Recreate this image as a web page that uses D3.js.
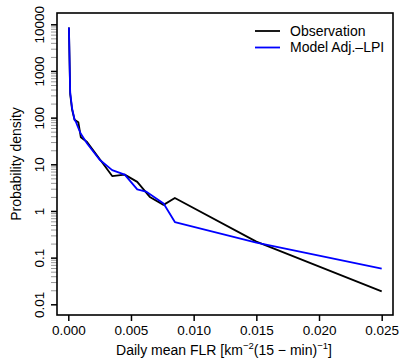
<!DOCTYPE html>
<html>
<head>
<meta charset="utf-8">
<script src="https://cdn.jsdelivr.net/npm/d3@7"></script>
<style>
  body { margin: 0; background: #fff; }
  svg text { font-family: "Liberation Sans", Arial, Helvetica, sans-serif; }
</style>
</head>
<body>
<div id="chart-area"></div>
<script>
// observed FLR density
const xObs = [0.00005, 0.00015, 0.0003, 0.0005, 0.0008, 0.001, 0.0015, 0.0025, 0.0035, 0.0045, 0.0055, 0.0065, 0.0076, 0.0085, 0.015, 0.025];
const yObs = [8500, 320, 150, 90, 80, 38, 30, 13, 5.6, 6, 4.2, 2, 1.35, 1.9, 0.22, 0.019];

// model Adj.-LPI density
const xMod = [0.00005, 0.00015, 0.0003, 0.0005, 0.0006, 0.0008, 0.001, 0.0015, 0.0025, 0.0035, 0.0045, 0.0055, 0.0062, 0.0076, 0.0085, 0.015, 0.025];
const yMod = [8500, 350, 160, 90, 82, 60, 45, 28, 12.5, 7.5, 6, 2.9, 2.6, 1.45, 0.58, 0.21, 0.058];

const xTicks = [0, 0.005, 0.01, 0.015, 0.02, 0.025];
const xTickLabels = ['0.000', '0.005', '0.010', '0.015', '0.020', '0.025'];
const yTicks = [0.01, 0.1, 1, 10, 100, 1000, 10000];
const yTickLabels = ['0.01', '0.1', '1', '10', '100', '1000', '10000'];
const seriesNames = ['Observation', 'Model Adj.\u2013LPI'];
const seriesColors = ['#000000', '#0000ff'];

const W = 400, H = 359;
const box = {left: 57, right: 393, top: 13, bottom: 315};

const svg = d3.select('#chart-area')
    .append('svg')
    .attr('width', W)
    .attr('height', H);

const x = d3.scaleLinear()
    .domain([0, 0.025])
    .range([68.3, 381.7]);

const y = d3.scaleLog()
    .domain([0.01, 10000])
    .range([304.3, 24.3]);

// minor ticks on the log axis
const minor = [];
yTicks.slice(0, -1).forEach(d => {
    for (let k = 2; k <= 9; k++) minor.push(d * k);
});

const yMinor = svg.append('g')
    .attr('transform', `translate(${box.left}, 0)`)
    .call(d3.axisLeft(y).tickValues(minor).tickSize(6).tickSizeOuter(0).tickFormat(''));
yMinor.select('.domain').remove();
yMinor.selectAll('line').attr('stroke', '#999').attr('stroke-width', 1);

const yAxis = svg.append('g')
    .attr('transform', `translate(${box.left}, 0)`)
    .call(d3.axisLeft(y).tickValues(yTicks).tickSize(6).tickSizeOuter(0)
        .tickFormat((d, i) => yTickLabels[i]));
yAxis.select('.domain').remove();
yAxis.selectAll('line').attr('stroke', '#000').attr('stroke-width', 1.5);
yAxis.selectAll('text')
    .attr('x', 0)
    .attr('y', -13)
    .attr('dy', 0)
    .attr('text-anchor', 'middle')
    .attr('transform', 'rotate(-90)')
    .attr('font-size', '13.5px')
    .attr('fill', '#000');

const xAxis = svg.append('g')
    .attr('transform', `translate(0, ${box.bottom})`)
    .call(d3.axisBottom(x).tickValues(xTicks).tickSize(6).tickSizeOuter(0)
        .tickFormat((d, i) => xTickLabels[i]));
xAxis.select('.domain').remove();
xAxis.selectAll('line').attr('stroke', '#000').attr('stroke-width', 1.5);
xAxis.selectAll('text')
    .attr('y', 20)
    .attr('dy', 0)
    .attr('font-size', '13.5px')
    .attr('fill', '#000');

// plot box
svg.append('rect')
    .attr('x', box.left)
    .attr('y', box.top)
    .attr('width', box.right - box.left)
    .attr('height', box.bottom - box.top)
    .attr('fill', 'none')
    .attr('stroke', '#000')
    .attr('stroke-width', 1.6);

const line = d3.line()
    .x(d => x(d[0]))
    .y(d => y(d[1]));

svg.append('path')
    .datum(xObs.map((d, i) => [d, yObs[i]]))
    .attr('d', line)
    .attr('fill', 'none')
    .attr('stroke', seriesColors[0])
    .attr('stroke-width', 1.8)
    .attr('stroke-linejoin', 'round');

svg.append('path')
    .datum(xMod.map((d, i) => [d, yMod[i]]))
    .attr('d', line)
    .attr('fill', 'none')
    .attr('stroke', seriesColors[1])
    .attr('stroke-width', 1.8)
    .attr('stroke-linejoin', 'round');

// legend
const legend = svg.append('g');
seriesNames.forEach((name, i) => {
    const ly = 31 + i * 16.5;
    legend.append('line')
        .attr('x1', 255).attr('x2', 280)
        .attr('y1', ly).attr('y2', ly)
        .attr('stroke', seriesColors[i])
        .attr('stroke-width', 1.8);
    legend.append('text')
        .attr('x', 290)
        .attr('y', ly)
        .attr('dy', '0.35em')
        .attr('font-size', '14px')
        .text(name);
});

// axis titles
svg.append('text')
    .attr('transform', 'rotate(-90)')
    .attr('x', -164)
    .attr('y', 21)
    .attr('text-anchor', 'middle')
    .attr('font-size', '14px')
    .text('Probability density');

const xt = svg.append('text')
    .attr('x', 224)
    .attr('y', 355)
    .attr('text-anchor', 'middle')
    .attr('font-size', '14px');
xt.append('tspan').text('Daily mean FLR [km');
xt.append('tspan').attr('dy', -6).attr('font-size', '9.5px').text('\u22122');
xt.append('tspan').attr('dy', 6).text('(15 \u2212 min)');
xt.append('tspan').attr('dy', -6).attr('font-size', '9.5px').text('\u22121');
xt.append('tspan').attr('dy', 6).text(']');
</script>
</body>
</html>
